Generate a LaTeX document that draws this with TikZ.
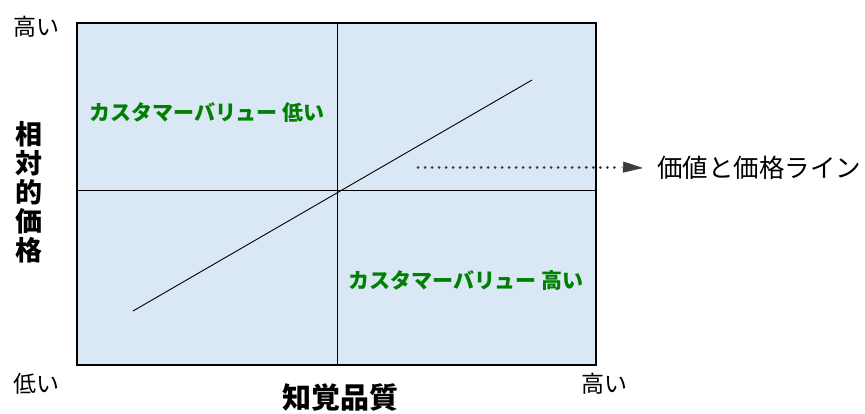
\documentclass[tikz,border=0pt]{standalone}
\usepackage{fontspec}
\setmainfont{Noto Sans CJK JP}
\usetikzlibrary{arrows.meta}
\definecolor{bgblue}{RGB}{218,231,244}
\definecolor{valgreen}{RGB}{0,128,0}
\definecolor{arrowgray}{RGB}{60,60,60}
\tikzset{
  quad/.style={draw=black, line width=1.2pt},
  valuetext/.style={text=valgreen, font=\bfseries\fontsize{21}{21}\selectfont, inner sep=0pt},
  endlabel/.style={font=\fontsize{23}{23}\selectfont, inner sep=0pt},
  axislabel/.style={font=\bfseries\fontsize{29}{30}\selectfont, inner sep=0pt},
}
\begin{document}
\begin{tikzpicture}[x=1pt,y=-1pt]
\useasboundingbox (0,0) rectangle (865,413);
\fill[bgblue] (77,23) rectangle (596,365);
\coordinate (tl) at (77,23);
\coordinate (br) at (596,365);
\draw[line width=1pt] (337,23) -- (337,365);
\draw[line width=1pt] (77,190) -- (596,190);
\draw[quad] (tl) rectangle (br);
\coordinate (lineA) at (133,311);
\coordinate (lineB) at (532,80);
\draw[line width=0.9pt] (lineA) -- (lineB);
\node[valuetext] (lowv) at (207,112) {カスタマーバリュー 低い};
\node[valuetext] (highv) at (466,281) {カスタマーバリュー 高い};
\node[font=\fontsize{25.5}{25.5}\selectfont, inner sep=0pt, anchor=west] (pline) at (657,168) {価値と価格ライン};
\coordinate (dotstart) at (418,167);
\coordinate (dotend) at (618,167);
\draw[arrowgray, line width=3pt, dash pattern=on 0.01pt off 7pt, line cap=round] (dotstart) -- (dotend);
\draw[arrowgray, -{Triangle[length=20pt,width=11pt]}, line width=0.5pt] (621,167) -- ([xshift=-14pt]pline.west);
\node[endlabel] (ytop) at (36,27) {高い};
\node[endlabel] (xlow) at (36,384) {低い};
\node[endlabel] (xhigh) at (604,384) {高い};
\node[axislabel] (xlab) at (340,398) {知覚品質};
\node[axislabel, align=center, font=\bfseries\fontsize{27}{29}\selectfont] (ylab) at (29,192) {相\\対\\的\\価\\格};
\end{tikzpicture}
\end{document}
